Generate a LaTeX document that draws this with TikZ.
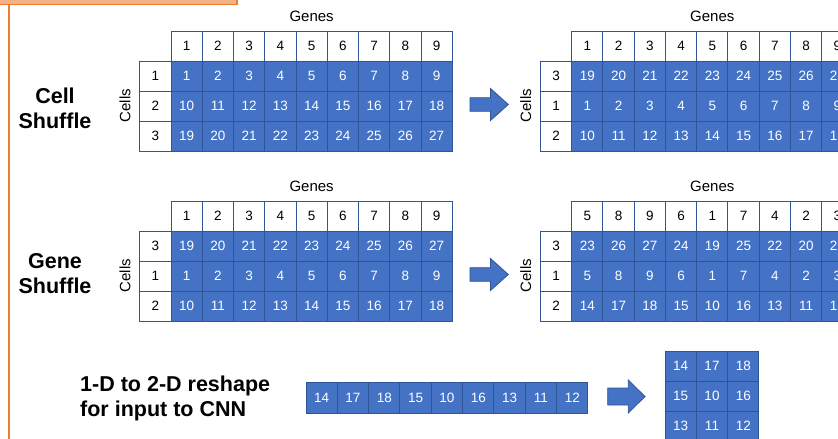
\documentclass[tikz,border=0pt]{standalone}
\usepackage{fontspec}
\setmainfont{Liberation Sans}
\definecolor{cblue}{HTML}{4472C4}
\definecolor{cdark}{HTML}{2F5597}
\definecolor{corange}{HTML}{ED7D31}
\definecolor{clorange}{HTML}{F4B183}
\newcommand\mytable[5]{%
  \foreach \h [count=\c] in {#4} {
    \node[cellw] (#1-h\c) at ({#2+(\c-0.5)*31.25},{#3+15}) {\h};
  }
  \foreach \r [count=\i] in {#5} {
    \node[cellw] (#1-r\i) at ({#2-15.5},{#3+30*\i+15}) {\r};
    \foreach \h [count=\c] in {#4} {
      \pgfmathtruncatemacro\v{(\r-1)*9+\h}
      \node[cellb] (#1-\i-\c) at ({#2+(\c-0.5)*31.25},{#3+30*\i+15}) {\v};
    }
  }
  \node[axlabel] (#1-genes) at ({#2+140.6},{#3-15}) {Genes};
  \node[axlabel, rotate=90] (#1-cells) at ({#2-46},{#3+74.5}) {Cells};
}
\newcommand\myarrow[7]{% name, x0, xh, xt, yc, shaft half, head half
  \draw[blockarrow] (#2,#5-#6) -- (#3,#5-#6) -- (#3,#5-#7) -- (#4,#5)
    -- (#3,#5+#7) -- (#3,#5+#6) -- (#2,#5+#6) -- cycle;
  \coordinate (#1) at (#4,#5);
}
\begin{document}
\begin{tikzpicture}[x=1pt,y=-1pt,
  cellb/.style={draw=cdark, line width=1pt, fill=cblue, text=white,
    minimum width=31.25pt, minimum height=30pt, inner sep=0pt,
    font=\fontsize{13.5}{14}\selectfont},
  cellw/.style={cellb, fill=white, text=black},
  stripcell/.style={cellb, minimum width=31.33pt, minimum height=31pt},
  gridcell/.style={cellb, minimum width=31.33pt, minimum height=30pt},
  axlabel/.style={inner sep=0pt, font=\fontsize{15}{16}\selectfont},
  biglabel/.style={inner sep=0pt, font=\fontsize{21.5}{25.5}\selectfont\bfseries},
  reshapelabel/.style={inner sep=0pt, font=\fontsize{21.5}{25}\selectfont\bfseries},
  blockarrow/.style={fill=cblue, draw=cdark, line width=0.8pt, line join=miter}]
\clip (0,0) rectangle (838,439);
\fill[white] (0,0) rectangle (838,439);
% orange frame
\draw[fill=clorange, draw=corange, line width=1.5pt] (-5,-5) rectangle (237,4.5);
\draw[corange, line width=2.6pt] (9,4.5) -- (9,445);
% tables
\mytable{t1}{171}{31}{1,2,3,4,5,6,7,8,9}{1,2,3}
\mytable{t2}{571.7}{31}{1,2,3,4,5,6,7,8,9}{3,1,2}
\mytable{t3}{171}{201}{1,2,3,4,5,6,7,8,9}{3,1,2}
\mytable{t4}{571.7}{201}{5,8,9,6,1,7,4,2,3}{3,1,2}
% arrows
\myarrow{a1}{470}{490.5}{508.3}{104.5}{6.8}{16}
\myarrow{a2}{470}{490.5}{508.3}{274.5}{6.8}{16}
\myarrow{a3}{607.7}{628.3}{645}{396.5}{8.5}{16.5}
% left labels
\node[biglabel, anchor=base] (cs1) at (55,103) {Cell};
\node[biglabel, anchor=base] (cs2) at (55,128.5) {Shuffle};
\node[biglabel, anchor=base] (gs1) at (55,268) {Gene};
\node[biglabel, anchor=base] (gs2) at (55,293.5) {Shuffle};
\node[reshapelabel, anchor=base west] (rs1) at (80,391.7) {1-D to 2-D reshape};
\node[reshapelabel, anchor=base west] (rs2) at (80,416.7) {for input to CNN};
% 1-D strip
\foreach \v [count=\c] in {14,17,18,15,10,16,13,11,12} {
  \node[stripcell] (s\c) at ({306+(\c-0.5)*31.33},397.5) {\v};
}
% 2-D grid
\foreach \row [count=\i] in {{14,17,18},{15,10,16},{13,11,12}} {
  \foreach \v [count=\c] in \row {
    \node[gridcell] (g\i-\c) at ({665+(\c-0.5)*31.33},{351+(\i-0.5)*30}) {\v};
  }
}
\end{tikzpicture}
\end{document}
